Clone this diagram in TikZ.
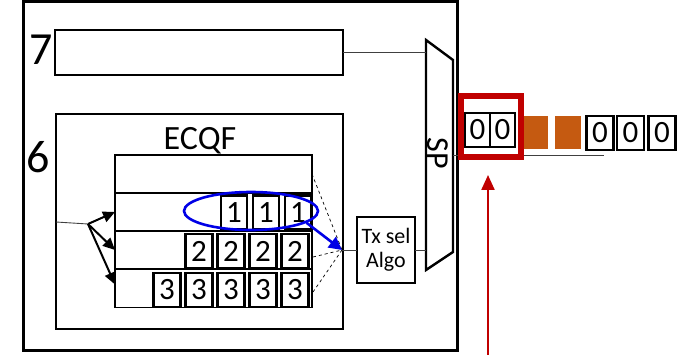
\documentclass[tikz,border=0pt]{standalone}
\usepackage{fontspec}
\setmainfont{Carlito}
\usetikzlibrary{positioning,arrows.meta,shapes.geometric,calc}

\definecolor{darkred}{HTML}{C00000}
\definecolor{rustorange}{HTML}{C55A11}
\definecolor{selblue}{HTML}{0000E6}

\tikzset{
  box/.style={draw, line width=1.8pt, inner sep=0pt, outer sep=0pt},
  rowbox/.style={box, minimum width=197, minimum height=38, anchor=north west},
  cell/.style={draw, line width=2.6pt, fill=white, inner sep=0pt, outer sep=0pt,
    minimum width=26, minimum height=34, font=\fontsize{31}{31}\selectfont},
  wire/.style={line width=0.9pt, black!75},
  fanarrow/.style={line width=2pt, -{Triangle[length=12pt,width=11pt]}},
  bigdigit/.style={font=\fontsize{46}{46}\selectfont},
}

\begin{document}
\begin{tikzpicture}[x=1pt,y=-1pt]

\useasboundingbox (0,0) rectangle (692,355);

% ============================
% OUTER FRAME AND PRIORITY BOXES
% ============================

\draw[line width=3pt] (23,1.5) rectangle (457,350);

\node[box, minimum width=288, minimum height=45] (q7) at (199,52.5) {};
\node[bigdigit] (lab7) at (41,50) {7};

\node[box, minimum width=287, minimum height=215, anchor=north west] (q6) at (56,114) {};
\node[bigdigit] (lab6) at (38,157) {6};
\node[font=\fontsize{34}{34}\selectfont, anchor=base] (ecqf) at (200,150) {ECQF};

% ============================
% ECQF QUEUE ROWS
% ============================

\node[rowbox] (r0) at (115,155) {};
\node[rowbox] (r1) at (115,193) {};
\node[rowbox] (r2) at (115,231) {};
\node[rowbox] (r3) at (115,269.5) {};

% frames waiting in each row
\foreach \k in {0,1,2}
  \node[cell] (c1\k) at ({298-32*\k},212.5) {1};
\foreach \k in {0,1,2,3}
  \node[cell, minimum width=27] (c2\k) at ({295-32*\k},251) {2};
\foreach \k in {0,1,2,3,4}
  \node[cell, minimum width=27] (c3\k) at ({295-32*\k},290) {3};

% ============================
% INPUT FAN-OUT
% ============================

\coordinate (in) at (56,222);
\coordinate (fork) at (88,224);
\draw[wire] (in) -- (fork);
\draw[fanarrow] (fork) -- (r1.west);
\draw[fanarrow] (fork) -- (r2.west);
\draw[fanarrow] (fork) -- ($(r3.west)+(0,-4)$);

% ============================
% SELECTION AND TX ALGORITHM
% ============================

\coordinate (merge) at (342,250);
\coordinate (d2) at (313,257);
\coordinate (d3) at (313,292);
\draw[dashed, line width=0.7pt] (r0.east) -- (merge);
\draw[dashed, line width=0.7pt] (d2) -- (merge);
\draw[dashed, line width=0.7pt] (d3) -- (merge);

\node[ellipse, draw=selblue, line width=2.6pt, minimum width=134, minimum height=38,
  inner sep=0pt] (sel) at (251,211) {};
\draw[selblue, line width=2.6pt, -{Triangle[length=13pt,width=13pt]}]
  (sel.-12) -- (merge);

\node[box, minimum width=58, minimum height=66, align=center,
  font=\fontsize{22}{24}\selectfont] (tx) at (386,250) {Tx sel\\Algo};
\draw[wire] (merge) -- (tx.west);

% ============================
% STRICT PRIORITY SELECTOR
% ============================

\coordinate (sp1) at (426,40);
\coordinate (sp2) at (453,60);
\coordinate (sp3) at (453,252);
\coordinate (sp4) at (426,270);
\draw[line width=2.4pt, line join=miter] (sp1) -- (sp2) -- (sp3) -- (sp4) -- cycle;
\node[rotate=-90, font=\fontsize{32}{32}\selectfont] (splab) at (438,153) {SP};

\draw[wire] (q7.east) -- (q7.east -| sp1);
\draw[wire] (tx.east) -- (tx.east -| sp1);

% ============================
% OUTPUT LINK
% ============================

\coordinate (out) at (453,155);
\coordinate (tail) at (604,155);
\draw[wire] (out) -- (tail);

\node[draw=darkred, line width=6pt, minimum width=60, minimum height=61,
  inner sep=0pt] (win) at (491,126.5) {};
\node[cell, minimum width=25] (o1) at (477.5,130) {0};
\node[cell, minimum width=25] (o2) at (502.5,130) {0};

\node[fill=rustorange, minimum width=24, minimum height=33, inner sep=0pt] (gap1) at (536,132.5) {};
\node[fill=rustorange, minimum width=26, minimum height=33, inner sep=0pt] (gap2) at (568,132.5) {};

\foreach \x [count=\i] in {600,630.5,662}
  \node[cell, minimum width=27] (z\i) at (\x,133) {0};

\coordinate (ptr) at (488,355);
\draw[darkred, line width=2.2pt, -{Triangle[length=15pt,width=13pt]}]
  (ptr) -- ($(win.south)+(-3,15)$);

\end{tikzpicture}
\end{document}
